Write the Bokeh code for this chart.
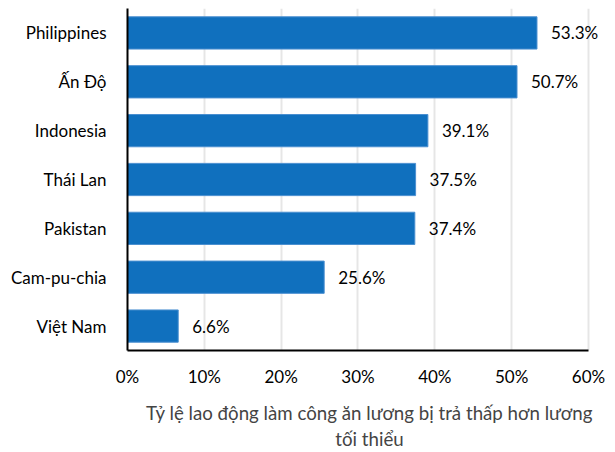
from bokeh.plotting import figure
from bokeh.models import ColumnDataSource, LabelSet, NumeralTickFormatter, FixedTicker, Range1d
from bokeh.core.properties import value
from bokeh.embed import file_html
from bokeh.resources import INLINE

countries = ["Philippines", "Ấn Độ", "Indonesia", "Thái Lan", "Pakistan", "Cam-pu-chia", "Việt Nam"]
values = [53.3, 50.7, 39.1, 37.5, 37.4, 25.6, 6.6]
tick_values = [0, 10, 20, 30, 40, 50, 60]
axis_title = "Tỷ lệ lao động làm công ăn lương bị trả thấp hơn lương\ntối thiểu"

FONT = "Lato"

src = ColumnDataSource(dict(
    country=countries,
    value=[v / 100 for v in values],
    label=[f"{v:.1f}%" for v in values],
))

p = figure(
    width=615, height=452,
    y_range=list(reversed(countries)),
    x_range=Range1d(0, 0.63),
    output_backend="svg", toolbar_location=None,
    min_border_left=127, min_border_right=4, min_border_top=8, min_border_bottom=4,
)
p.outline_line_color = None

p.hbar(y="country", right="value", left=0, height=0.66, source=src,
       fill_color="#1070BE", line_color="#4A8FD0", line_width=1)

labels = LabelSet(x="value", y="country", text="label", source=src,
                  x_offset=14, text_baseline="middle", text_font=value(FONT),
                  text_font_size="17px", text_color="#000000")
p.add_layout(labels)

p.xaxis.ticker = FixedTicker(ticks=[t / 100 for t in tick_values])
p.xaxis.bounds = (0, 0.6)
p.xaxis.formatter = NumeralTickFormatter(format="0%")
p.xaxis.axis_label = axis_title
p.xaxis.axis_label_text_font = FONT
p.xaxis.axis_label_text_font_size = "18.7px"
p.xaxis.axis_label_text_font_style = "normal"
p.xaxis.axis_label_standoff = 12
p.xaxis.major_label_standoff = 9

for ax in (p.xaxis, p.yaxis):
    ax.axis_line_color = "#000000"
    ax.axis_line_width = 2
    ax.major_tick_line_color = None
    ax.minor_tick_line_color = None
    ax.major_label_text_font = FONT
    ax.major_label_text_font_size = "17px"
    ax.major_label_text_color = "#000000"

p.yaxis.major_label_standoff = 15

p.xgrid.grid_line_color = "#E6E6E6"
p.xgrid.grid_line_width = 2
p.ygrid.grid_line_color = None
p.y_range.range_padding = 0

open("out.html", "w").write(file_html(p, INLINE))
